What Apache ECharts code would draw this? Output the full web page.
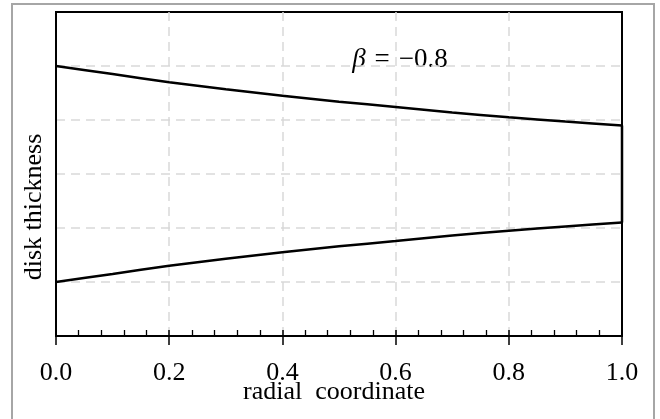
<!DOCTYPE html>
<html>
<head>
<meta charset="utf-8">
<script src="https://cdn.jsdelivr.net/npm/echarts@6/dist/echarts.min.js"></script>
<style>
  html, body { margin: 0; padding: 0; background: #fff; }
  #chart { width: 660px; height: 419px; }
</style>
</head>
<body>
<div id="chart"></div>
<script>
// values (disk profile, beta = -0.8)
const radial = [0.0, 0.1, 0.2, 0.3, 0.4, 0.5, 0.6, 0.7, 0.8, 0.9, 1.0];
const upperEdge = [5.00, 4.85, 4.70, 4.57, 4.45, 4.34, 4.24, 4.14, 4.05, 3.97, 3.90];
const lowerEdge = [1.00, 1.15, 1.30, 1.43, 1.55, 1.66, 1.76, 1.86, 1.95, 2.03, 2.10];
const xTicks = [0.0, 0.2, 0.4, 0.6, 0.8, 1.0];

const serif = '"Liberation Serif", "DejaVu Serif", serif';

const chart = echarts.init(document.getElementById('chart'), null, { renderer: 'canvas' });

const toPairs = (xs, ys) => xs.map((x, i) => [x, ys[i]]);
const last = radial.length - 1;

const gridDash = {
  show: true,
  showMinLine: false,
  showMaxLine: false,
  lineStyle: { color: '#d9d9d9', width: 1.5, type: [9, 6] }
};

chart.setOption({
  animation: false,
  grid: {
    left: 56, top: 12, right: 38, bottom: 83,
    show: true,
    borderColor: '#000',
    borderWidth: 2
  },
  xAxis: [
    {
      type: 'value',
      position: 'bottom',
      min: xTicks[0],
      max: xTicks[xTicks.length - 1],
      interval: 0.2,
      axisLine: { lineStyle: { color: '#000', width: 2 } },
      axisTick: { show: true, inside: false, length: 9, lineStyle: { color: '#000', width: 1.5 } },
      axisLabel: {
        margin: 24,
        color: '#000',
        fontFamily: serif,
        fontSize: 26,
        formatter: v => v.toFixed(1)
      },
      splitLine: gridDash
    },
    {
      // inward major + minor ticks
      type: 'value',
      position: 'bottom',
      min: 0,
      max: 1,
      interval: 0.2,
      axisLine: { show: false },
      axisTick: { show: true, inside: true, length: 6, lineStyle: { color: '#000', width: 1.5 } },
      minorTick: { show: true, splitNumber: 5, length: 6, lineStyle: { color: '#000', width: 1.3 } },
      axisLabel: { show: false },
      splitLine: { show: false }
    }
  ],
  yAxis: {
    type: 'value',
    min: 0,
    max: 6,
    interval: 1,
    axisLine: { show: true, lineStyle: { color: '#000', width: 2 } },
    axisTick: { show: false },
    axisLabel: { show: false },
    splitLine: gridDash
  },
  series: [
    {
      name: 'upper',
      type: 'line',
      xAxisIndex: 0,
      data: toPairs(radial, upperEdge),
      smooth: 0.2,
      showSymbol: false,
      lineStyle: { color: '#000', width: 2.5 }
    },
    {
      name: 'lower',
      type: 'line',
      xAxisIndex: 0,
      data: toPairs(radial, lowerEdge),
      smooth: 0.2,
      showSymbol: false,
      lineStyle: { color: '#000', width: 2.5 }
    },
    {
      name: 'rim',
      type: 'line',
      xAxisIndex: 0,
      data: [[radial[last], lowerEdge[last]], [radial[last], upperEdge[last]]],
      showSymbol: false,
      lineStyle: { color: '#000', width: 2.5 }
    }
  ],
  graphic: [
    {
      type: 'rect',
      silent: true,
      shape: { x: 12, y: 4, width: 642, height: 430 },
      style: { fill: 'none', stroke: '#a6a6a6', lineWidth: 2 }
    },
    {
      type: 'text',
      x: 334,
      y: 392,
      style: {
        text: 'radial  coordinate',
        font: '26px ' + serif,
        fill: '#000',
        align: 'center',
        verticalAlign: 'middle'
      }
    },
    {
      type: 'text',
      x: 34,
      y: 207,
      rotation: Math.PI / 2,
      style: {
        text: 'disk thickness',
        font: '26px ' + serif,
        fill: '#000',
        align: 'center',
        verticalAlign: 'middle'
      }
    },
    {
      type: 'text',
      x: 400,
      y: 60,
      style: {
        text: '{b|β}{e|=}{n|−0.8}',
        align: 'center',
        verticalAlign: 'middle',
        rich: {
          b: { fontStyle: 'italic', fontSize: 27, fontFamily: serif, fill: '#000' },
          e: { fontSize: 27, fontFamily: serif, fill: '#000', padding: [0, 9, 0, 9] },
          n: { fontSize: 27, fontFamily: serif, fill: '#000' }
        }
      }
    }
  ]
});
</script>
</body>
</html>
